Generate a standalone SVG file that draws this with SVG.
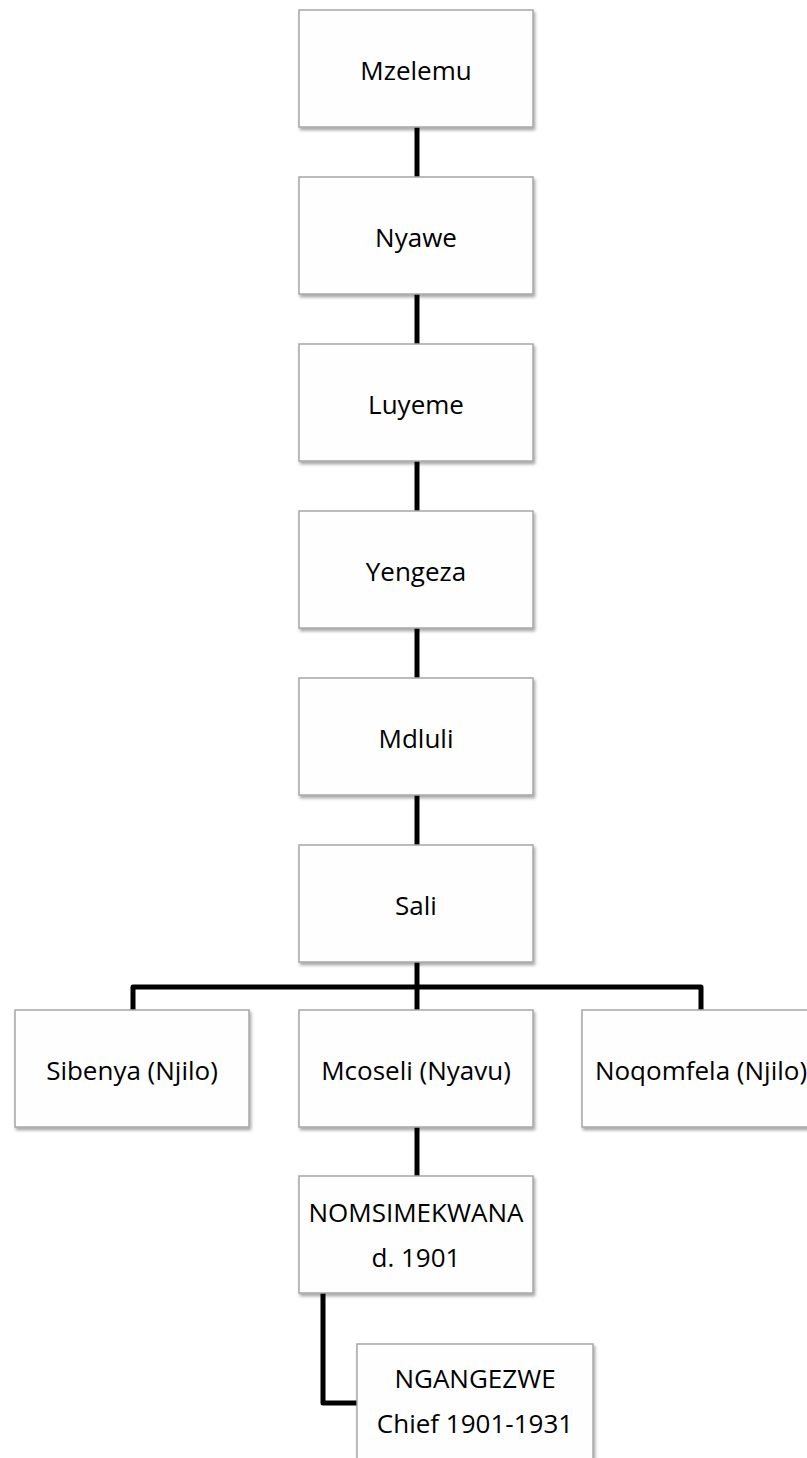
<svg xmlns="http://www.w3.org/2000/svg" width="807" height="1458" viewBox="0 0 807 1458">
<defs>
<filter id="sh" x="-10%" y="-10%" width="130%" height="130%">
<feDropShadow dx="1.5" dy="2.5" stdDeviation="1.8" flood-color="#000" flood-opacity="0.35"/>
</filter>
<style>
.box{fill:#fefefe;stroke:#a6a6a6;stroke-width:1.5;filter:url(#sh)}
.t{font-family:"Open Sans","Noto Sans",sans-serif;font-size:26px;fill:#000;text-anchor:middle}
.c{fill:none;stroke:#000;stroke-width:5;stroke-linejoin:round}
</style>
</defs>
<rect width="807" height="1458" fill="#fff"/>
<g id="connectors">
<line class="c" x1="417" y1="127" x2="417" y2="177"/>
<line class="c" x1="417" y1="294" x2="417" y2="344"/>
<line class="c" x1="417" y1="461" x2="417" y2="511"/>
<line class="c" x1="417" y1="628" x2="417" y2="678"/>
<line class="c" x1="417" y1="795" x2="417" y2="845"/>
<line class="c" x1="417" y1="962" x2="417" y2="1010"/>
<path class="c" d="M133 1010 V987 H701 V1010"/>
<line class="c" x1="417" y1="1127" x2="417" y2="1176"/>
<path class="c" d="M323 1293 V1403 H357"/>
</g>
<g id="n-mzelemu"><rect class="box" x="299" y="10" width="234" height="117"/><text class="t" x="416" y="80">Mzelemu</text></g>
<g id="n-nyawe"><rect class="box" x="299" y="177" width="234" height="117"/><text class="t" x="416" y="247">Nyawe</text></g>
<g id="n-luyeme"><rect class="box" x="299" y="344" width="234" height="117"/><text class="t" x="416" y="414">Luyeme</text></g>
<g id="n-yengeza"><rect class="box" x="299" y="511" width="234" height="117"/><text class="t" x="416" y="581">Yengeza</text></g>
<g id="n-mdluli"><rect class="box" x="299" y="678" width="234" height="117"/><text class="t" x="416" y="748">Mdluli</text></g>
<g id="n-sali"><rect class="box" x="299" y="845" width="234" height="117"/><text class="t" x="416" y="915">Sali</text></g>
<g id="n-sibenya"><rect class="box" x="15" y="1010" width="234" height="117"/><text class="t" x="132" y="1080">Sibenya (Njilo)</text></g>
<g id="n-mcoseli"><rect class="box" x="299" y="1010" width="234" height="117"/><text class="t" x="416" y="1080">Mcoseli (Nyavu)</text></g>
<g id="n-noqomfela"><rect class="box" x="582" y="1010" width="234" height="117"/><text class="t" x="701" y="1080">Noqomfela (Njilo)</text></g>
<g id="n-nomsimekwana"><rect class="box" x="299" y="1176" width="234" height="117"/><text class="t" x="416" y="1222">NOMSIMEKWANA</text><text class="t" x="416" y="1267">d. 1901</text></g>
<g id="n-ngangezwe"><rect class="box" x="357" y="1344" width="236" height="130"/><text class="t" x="475" y="1388">NGANGEZWE</text><text class="t" x="475" y="1433">Chief 1901-1931</text></g>
</svg>
